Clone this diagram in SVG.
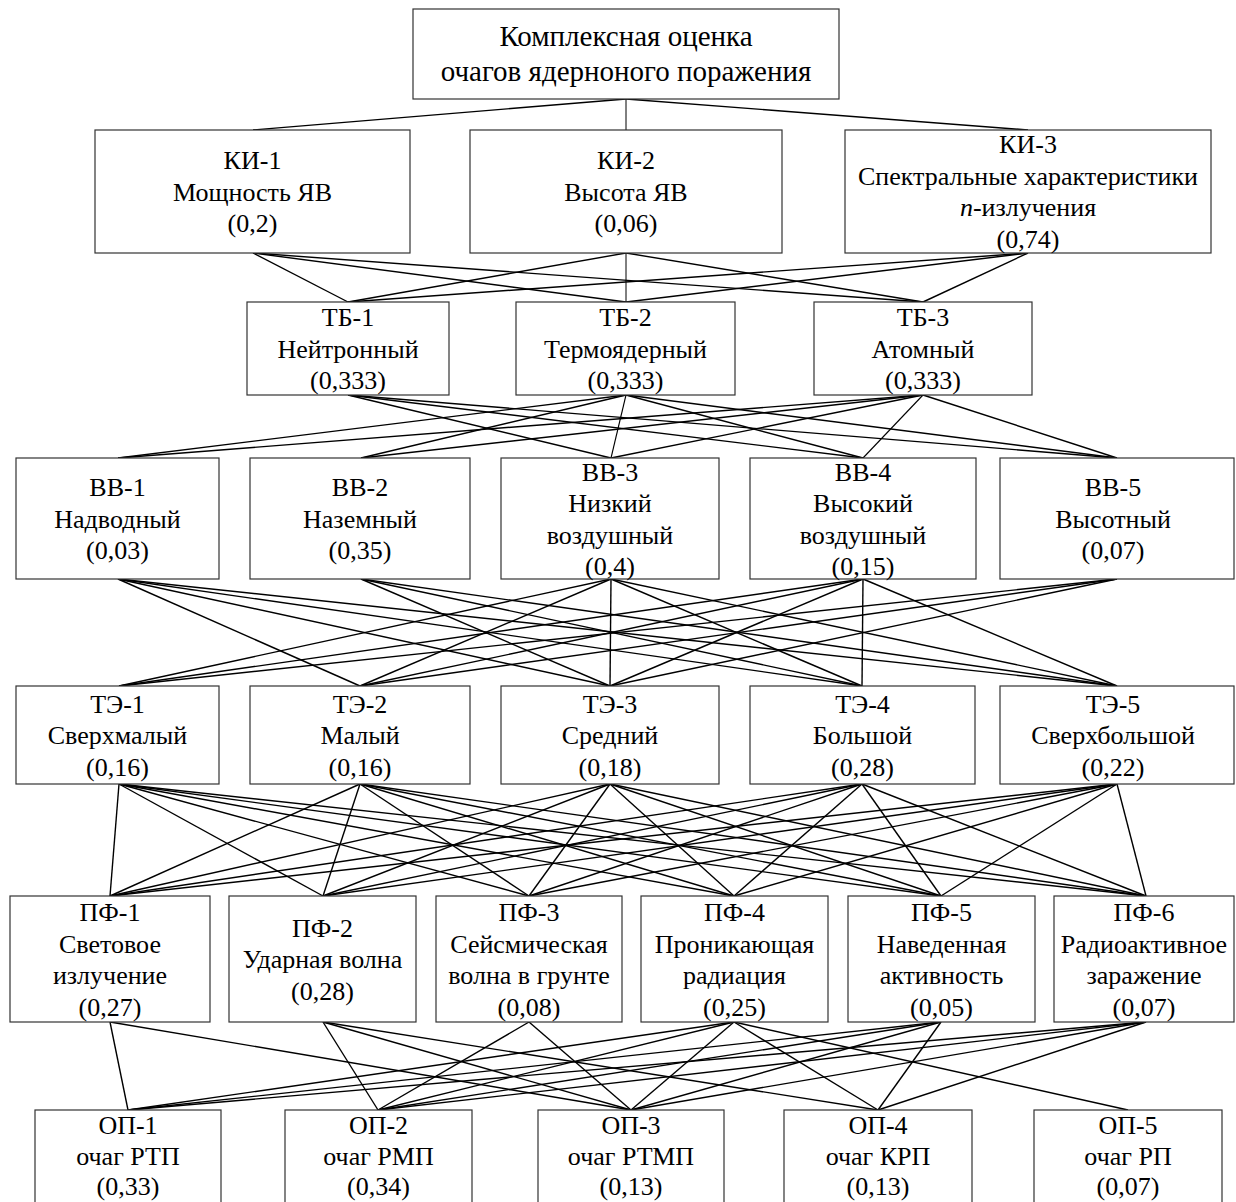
<svg xmlns="http://www.w3.org/2000/svg" width="1236" height="1202" viewBox="0 0 1236 1202">
<style>
rect{fill:#fff;stroke:#333;stroke-width:1.2}
text{font-family:"Liberation Serif","Times New Roman",serif;font-size:26px;text-anchor:middle;fill:#000}
text.big{font-size:29px}
#connectors line{stroke:#000;stroke-width:1.4}
</style>
<rect x="0" y="0" width="1236" height="1202" style="fill:#fff;stroke:none"/>
<g id="connectors">
<line x1="626" y1="99" x2="253" y2="130"/><line x1="626" y1="99" x2="626" y2="130" style="stroke-width:1"/><line x1="626" y1="99" x2="1028" y2="130"/>
<line x1="253" y1="253" x2="348" y2="302"/><line x1="253" y1="253" x2="626" y2="302"/><line x1="253" y1="253" x2="923" y2="302"/>
<line x1="626" y1="253" x2="348" y2="302"/><line x1="626" y1="253" x2="626" y2="302" style="stroke-width:1"/><line x1="626" y1="253" x2="923" y2="302"/>
<line x1="1028" y1="253" x2="348" y2="302"/><line x1="1028" y1="253" x2="626" y2="302"/><line x1="1028" y1="253" x2="923" y2="302"/>
<line x1="348" y1="395" x2="611" y2="458"/><line x1="348" y1="395" x2="863" y2="458"/><line x1="348" y1="395" x2="1117" y2="458"/>
<line x1="626" y1="395" x2="118" y2="458"/><line x1="626" y1="395" x2="361" y2="458"/><line x1="626" y1="395" x2="611" y2="458" style="stroke-width:1.1"/><line x1="626" y1="395" x2="863" y2="458"/><line x1="626" y1="395" x2="1117" y2="458"/>
<line x1="923" y1="395" x2="118" y2="458"/><line x1="923" y1="395" x2="361" y2="458"/><line x1="923" y1="395" x2="611" y2="458"/><line x1="923" y1="395" x2="863" y2="458" style="stroke-width:1.1"/><line x1="923" y1="395" x2="1117" y2="458"/>
<line x1="118" y1="579" x2="360" y2="686"/><line x1="118" y1="579" x2="610" y2="686"/><line x1="118" y1="579" x2="862" y2="686"/><line x1="118" y1="579" x2="1117" y2="686"/>
<line x1="361" y1="579" x2="610" y2="686"/><line x1="361" y1="579" x2="862" y2="686"/><line x1="361" y1="579" x2="1117" y2="686"/>
<line x1="611" y1="579" x2="119" y2="686"/><line x1="611" y1="579" x2="360" y2="686"/><line x1="611" y1="579" x2="610" y2="686"/><line x1="611" y1="579" x2="862" y2="686"/><line x1="611" y1="579" x2="1117" y2="686"/>
<line x1="863" y1="579" x2="119" y2="686"/><line x1="863" y1="579" x2="360" y2="686"/><line x1="863" y1="579" x2="610" y2="686"/><line x1="863" y1="579" x2="862" y2="686"/><line x1="863" y1="579" x2="1117" y2="686"/>
<line x1="1117" y1="579" x2="119" y2="686"/><line x1="1117" y1="579" x2="360" y2="686"/><line x1="1117" y1="579" x2="610" y2="686"/>
<line x1="119" y1="784" x2="110" y2="896"/><line x1="119" y1="784" x2="323" y2="896"/><line x1="119" y1="784" x2="529" y2="896"/><line x1="119" y1="784" x2="734" y2="896"/><line x1="119" y1="784" x2="941" y2="896"/><line x1="119" y1="784" x2="1146" y2="896"/>
<line x1="360" y1="784" x2="110" y2="896"/><line x1="360" y1="784" x2="323" y2="896"/><line x1="360" y1="784" x2="529" y2="896"/><line x1="360" y1="784" x2="734" y2="896"/><line x1="360" y1="784" x2="941" y2="896"/><line x1="360" y1="784" x2="1146" y2="896"/>
<line x1="610" y1="784" x2="110" y2="896"/><line x1="610" y1="784" x2="323" y2="896"/><line x1="610" y1="784" x2="529" y2="896"/><line x1="610" y1="784" x2="734" y2="896"/><line x1="610" y1="784" x2="941" y2="896"/><line x1="610" y1="784" x2="1146" y2="896"/>
<line x1="862" y1="784" x2="110" y2="896"/><line x1="862" y1="784" x2="323" y2="896"/><line x1="862" y1="784" x2="529" y2="896"/><line x1="862" y1="784" x2="734" y2="896"/><line x1="862" y1="784" x2="941" y2="896"/><line x1="862" y1="784" x2="1146" y2="896"/>
<line x1="1117" y1="784" x2="110" y2="896"/><line x1="1117" y1="784" x2="323" y2="896"/><line x1="1117" y1="784" x2="529" y2="896"/><line x1="1117" y1="784" x2="734" y2="896"/><line x1="1117" y1="784" x2="941" y2="896"/><line x1="1117" y1="784" x2="1146" y2="896"/>
<line x1="110" y1="1022" x2="128" y2="1110"/><line x1="110" y1="1022" x2="631" y2="1110"/>
<line x1="323" y1="1022" x2="378" y2="1110"/><line x1="323" y1="1022" x2="631" y2="1110"/><line x1="323" y1="1022" x2="878" y2="1110"/>
<line x1="529" y1="1022" x2="378" y2="1110"/><line x1="529" y1="1022" x2="631" y2="1110"/>
<line x1="734" y1="1022" x2="128" y2="1110"/><line x1="734" y1="1022" x2="378" y2="1110"/><line x1="734" y1="1022" x2="631" y2="1110"/><line x1="734" y1="1022" x2="878" y2="1110"/><line x1="734" y1="1022" x2="1128" y2="1110"/>
<line x1="941" y1="1022" x2="128" y2="1110"/><line x1="941" y1="1022" x2="378" y2="1110"/><line x1="941" y1="1022" x2="631" y2="1110"/><line x1="941" y1="1022" x2="878" y2="1110"/>
<line x1="1146" y1="1022" x2="128" y2="1110"/><line x1="1146" y1="1022" x2="378" y2="1110"/><line x1="1146" y1="1022" x2="631" y2="1110"/><line x1="1146" y1="1022" x2="878" y2="1110"/>
</g>
<g id="root"><rect x="413" y="9" width="426" height="90"/><text class="big" x="626" y="46">Комплексная оценка</text><text class="big" x="626" y="81">очагов ядерноного поражения</text></g>
<g id="ki1"><rect x="95" y="130" width="315" height="123"/><text x="252.5" y="169">КИ-1</text><text x="252.5" y="200.5">Мощность ЯВ</text><text x="252.5" y="232">(0,2)</text></g>
<g id="ki2"><rect x="470" y="130" width="312" height="123"/><text x="626" y="169">КИ-2</text><text x="626" y="200.5">Высота ЯВ</text><text x="626" y="232">(0,06)</text></g>
<g id="ki3"><rect x="845" y="130" width="366" height="123"/><text x="1028" y="153">КИ-3</text><text x="1028" y="184.5">Спектральные характеристики</text><text x="1028" y="216"><tspan font-style="italic">n</tspan>-излучения</text><text x="1028" y="247.5">(0,74)</text></g>
<g id="tb1"><rect x="247" y="302" width="202" height="93"/><text x="348" y="326">ТБ-1</text><text x="348" y="357.5">Нейтронный</text><text x="348" y="389">(0,333)</text></g>
<g id="tb2"><rect x="516" y="302" width="219" height="93"/><text x="625.5" y="326">ТБ-2</text><text x="625.5" y="357.5">Термоядерный</text><text x="625.5" y="389">(0,333)</text></g>
<g id="tb3"><rect x="814" y="302" width="218" height="93"/><text x="923" y="326">ТБ-3</text><text x="923" y="357.5">Атомный</text><text x="923" y="389">(0,333)</text></g>
<g id="vv1"><rect x="16" y="458" width="203" height="121"/><text x="117.5" y="496">ВВ-1</text><text x="117.5" y="527.5">Надводный</text><text x="117.5" y="559">(0,03)</text></g>
<g id="vv2"><rect x="250" y="458" width="220" height="121"/><text x="360" y="496">ВВ-2</text><text x="360" y="527.5">Наземный</text><text x="360" y="559">(0,35)</text></g>
<g id="vv3"><rect x="501" y="458" width="218" height="121"/><text x="610" y="480.5">ВВ-3</text><text x="610" y="512">Низкий</text><text x="610" y="543.5">воздушный</text><text x="610" y="575">(0,4)</text></g>
<g id="vv4"><rect x="750" y="458" width="226" height="121"/><text x="863" y="480.5">ВВ-4</text><text x="863" y="512">Высокий</text><text x="863" y="543.5">воздушный</text><text x="863" y="575">(0,15)</text></g>
<g id="vv5"><rect x="1000" y="458" width="234" height="121"/><text x="1113" y="496">ВВ-5</text><text x="1113" y="527.5">Высотный</text><text x="1113" y="559">(0,07)</text></g>
<g id="te1"><rect x="16" y="686" width="203" height="98"/><text x="117.5" y="712.5">ТЭ-1</text><text x="117.5" y="744">Сверхмалый</text><text x="117.5" y="775.5">(0,16)</text></g>
<g id="te2"><rect x="250" y="686" width="220" height="98"/><text x="360" y="712.5">ТЭ-2</text><text x="360" y="744">Малый</text><text x="360" y="775.5">(0,16)</text></g>
<g id="te3"><rect x="501" y="686" width="218" height="98"/><text x="610" y="712.5">ТЭ-3</text><text x="610" y="744">Средний</text><text x="610" y="775.5">(0,18)</text></g>
<g id="te4"><rect x="750" y="686" width="225" height="98"/><text x="862.5" y="712.5">ТЭ-4</text><text x="862.5" y="744">Большой</text><text x="862.5" y="775.5">(0,28)</text></g>
<g id="te5"><rect x="1000" y="686" width="234" height="98"/><text x="1113" y="712.5">ТЭ-5</text><text x="1113" y="744">Сверхбольшой</text><text x="1113" y="775.5">(0,22)</text></g>
<g id="pf1"><rect x="10" y="896" width="200" height="126"/><text x="110" y="921">ПФ-1</text><text x="110" y="952.5">Световое</text><text x="110" y="984">излучение</text><text x="110" y="1015.5">(0,27)</text></g>
<g id="pf2"><rect x="229" y="896" width="187" height="126"/><text x="322.5" y="936.5">ПФ-2</text><text x="322.5" y="968">Ударная волна</text><text x="322.5" y="999.5">(0,28)</text></g>
<g id="pf3"><rect x="436" y="896" width="186" height="126"/><text x="529" y="921">ПФ-3</text><text x="529" y="952.5">Сейсмическая</text><text x="529" y="984">волна в грунте</text><text x="529" y="1015.5">(0,08)</text></g>
<g id="pf4"><rect x="641" y="896" width="187" height="126"/><text x="734.5" y="921">ПФ-4</text><text x="734.5" y="952.5">Проникающая</text><text x="734.5" y="984">радиация</text><text x="734.5" y="1015.5">(0,25)</text></g>
<g id="pf5"><rect x="848" y="896" width="187" height="126"/><text x="941.5" y="921">ПФ-5</text><text x="941.5" y="952.5">Наведенная</text><text x="941.5" y="984">активность</text><text x="941.5" y="1015.5">(0,05)</text></g>
<g id="pf6"><rect x="1054" y="896" width="180" height="126"/><text x="1144" y="921">ПФ-6</text><text x="1144" y="952.5">Радиоактивное</text><text x="1144" y="984">заражение</text><text x="1144" y="1015.5">(0,07)</text></g>
<g id="op1"><rect x="35" y="1110" width="186" height="100"/><text x="128" y="1134">ОП-1</text><text x="128" y="1165">очаг РТП</text><text x="128" y="1195">(0,33)</text></g>
<g id="op2"><rect x="285" y="1110" width="187" height="100"/><text x="378.5" y="1134">ОП-2</text><text x="378.5" y="1165">очаг РМП</text><text x="378.5" y="1195">(0,34)</text></g>
<g id="op3"><rect x="538" y="1110" width="186" height="100"/><text x="631" y="1134">ОП-3</text><text x="631" y="1165">очаг РТМП</text><text x="631" y="1195">(0,13)</text></g>
<g id="op4"><rect x="784" y="1110" width="188" height="100"/><text x="878" y="1134">ОП-4</text><text x="878" y="1165">очаг КРП</text><text x="878" y="1195">(0,13)</text></g>
<g id="op5"><rect x="1034" y="1110" width="188" height="100"/><text x="1128" y="1134">ОП-5</text><text x="1128" y="1165">очаг РП</text><text x="1128" y="1195">(0,07)</text></g>
</svg>
